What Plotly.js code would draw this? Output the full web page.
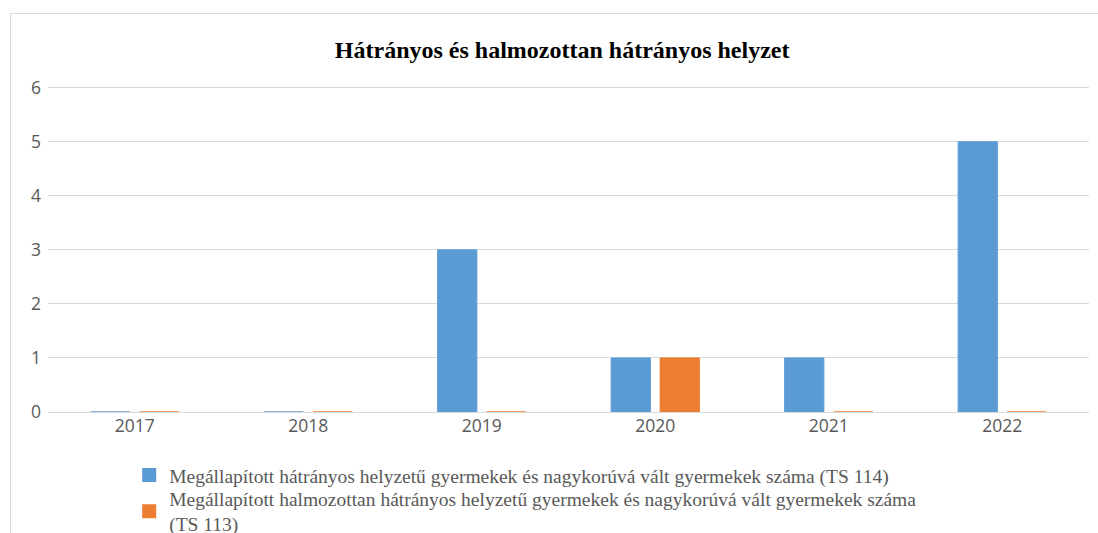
<!DOCTYPE html>
<html>
<head>
<meta charset="utf-8">
<script src="https://cdn.plot.ly/plotly-3.0.1.min.js"></script>
<style>
  html, body { margin: 0; padding: 0; background: #fff; }
  #wrap { position: relative; width: 1098px; height: 533px; overflow: hidden; }
  #frame { position: absolute; left: 10px; top: 13px; width: 1100px; height: 540px; border: 1px solid #d9d9d9; box-sizing: border-box; pointer-events: none; }
  #chart { position: absolute; left: 0; top: 0; width: 1098px; height: 533px; }
</style>
</head>
<body>
<div id="wrap">
  <div id="chart"></div>
  <div id="frame"></div>
</div>
<script>
const years = ['2017', '2018', '2019', '2020', '2021', '2022'];
const seriesTS114 = [0, 0, 3, 1, 1, 5];
const seriesTS113 = [0, 0, 0, 1, 0, 0];
const nameTS114 = 'Megállapított hátrányos helyzetű gyermekek és nagykorúvá vált gyermekek száma (TS 114)';
const nameTS113 = 'Megállapított halmozottan hátrányos helyzetű gyermekek és nagykorúvá vált gyermekek száma<br>(TS 113)';
const titleText = 'Hátrányos és halmozottan hátrányos helyzet';

const traces = [
  { type: 'bar', x: years, y: seriesTS114, name: nameTS114, legend: 'legend',
    marker: { color: '#5b9bd5', line: { color: '#5b9bd5', width: 1 } } },
  { type: 'bar', x: years, y: seriesTS113, name: nameTS113, legend: 'legend2',
    marker: { color: '#ed7d31', line: { color: '#ed7d31', width: 1 } } }
];

const legendFont = { family: 'Liberation Serif, serif', size: 19.5, color: '#595959' };

const layout = {
  width: 1098, height: 533,
  margin: { l: 48, r: 9, t: 85, b: 121, pad: 0, autoexpand: false },
  paper_bgcolor: 'rgba(0,0,0,0)', plot_bgcolor: 'rgba(0,0,0,0)',
  title: { text: '<b>' + titleText + '</b>', x: 0.512, xanchor: 'center', y: 0.907, yanchor: 'middle',
           font: { family: 'Liberation Serif, serif', size: 24, color: '#000' } },
  barmode: 'group', bargap: 0.435, bargroupgap: 0.2,
  xaxis: { type: 'category', showgrid: false, zeroline: false, showline: false, ticks: '',
           tickfont: { family: 'Open Sans, sans-serif', size: 17.5, color: '#595959' }, ticklabelstandoff: 1 },
  yaxis: { range: [0, 6.05], dtick: 1, tick0: 0, showgrid: true, gridcolor: '#d9d9d9', gridwidth: 1,
           zeroline: true, zerolinecolor: '#d9d9d9', zerolinewidth: 1, showline: false, ticks: '',
           tickfont: { family: 'Open Sans, sans-serif', size: 17.5, color: '#595959' }, ticklabelstandoff: 6 },
  showlegend: true,
  legend: { orientation: 'v', x: 0.078, xanchor: 'left', y: -0.134, yanchor: 'top',
            font: legendFont, bgcolor: 'rgba(0,0,0,0)', itemsizing: 'constant' },
  legend2: { orientation: 'v', x: 0.078, xanchor: 'left', y: -0.206, yanchor: 'top',
            font: legendFont, bgcolor: 'rgba(0,0,0,0)', itemsizing: 'constant' }
};

Plotly.newPlot('chart', traces, layout, { displayModeBar: false, staticPlot: true });
</script>
</body>
</html>
